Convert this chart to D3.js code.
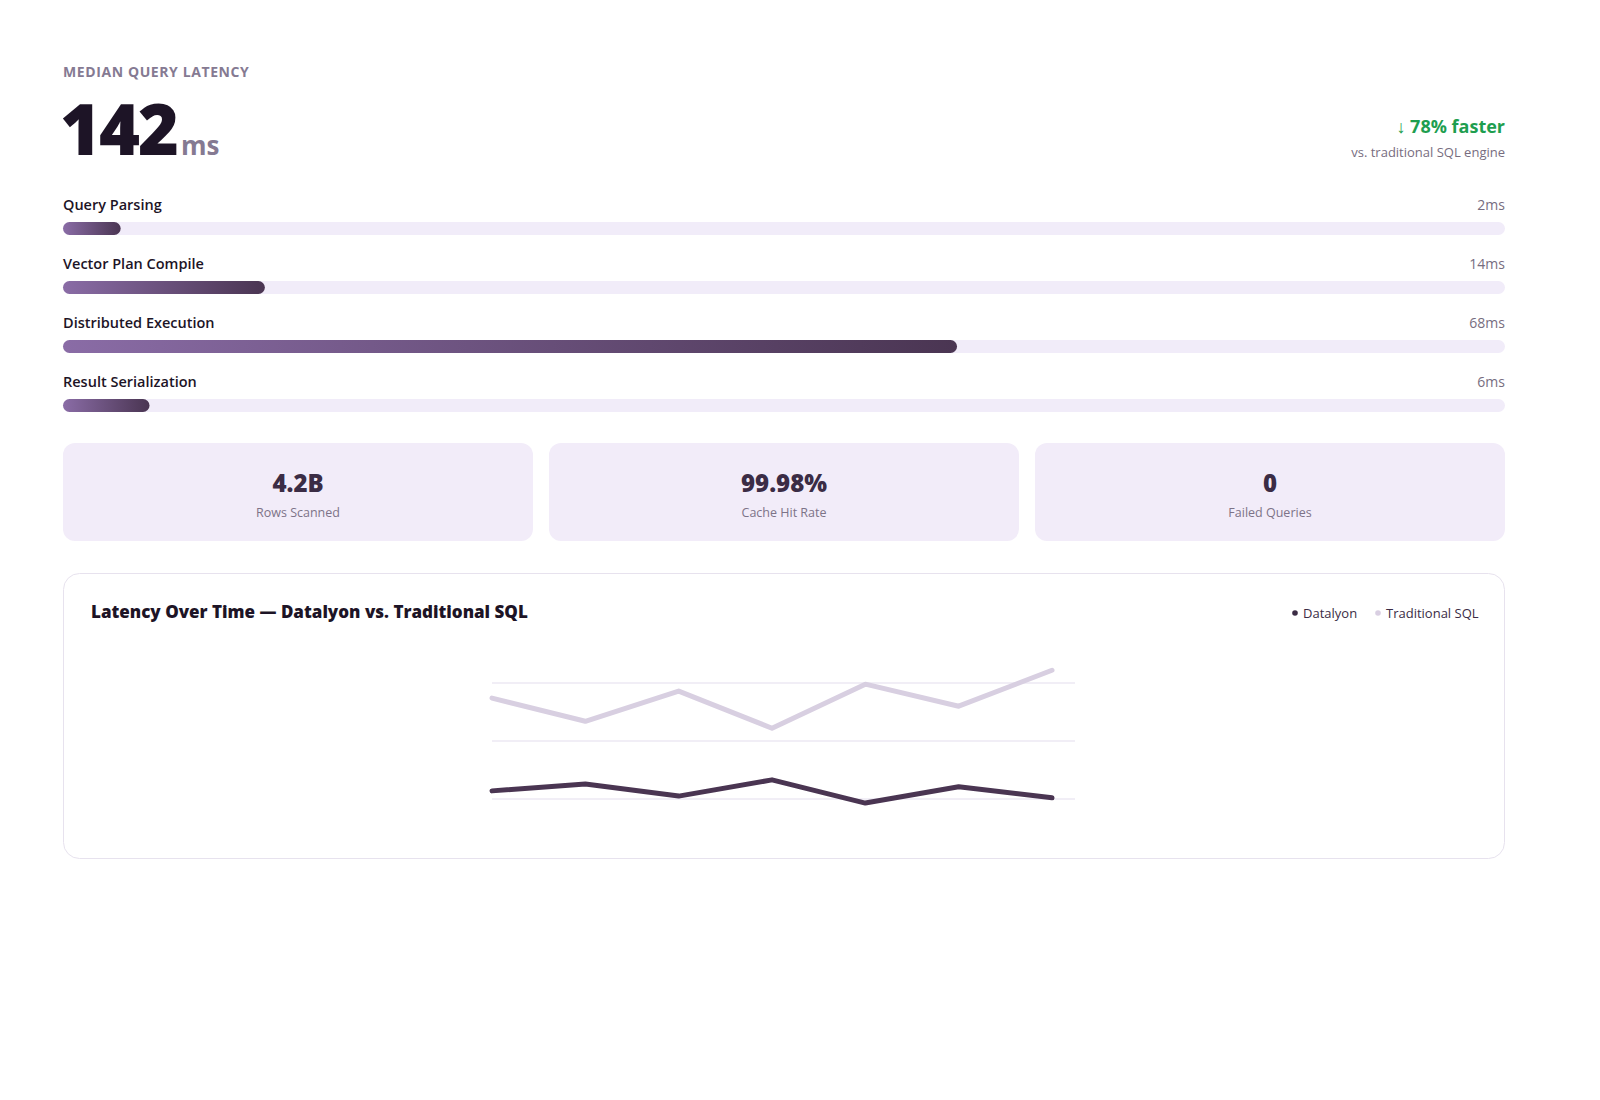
<!DOCTYPE html>
<html><head><meta charset="utf-8">
<script src="https://cdn.jsdelivr.net/npm/d3@7"></script>
<style>
html,body{margin:0;padding:0;background:#fff;overflow:hidden;font-family:"Open Sans","Noto Sans",sans-serif;}
svg{display:block;}
</style></head><body>
<svg id="c" width="1600" height="1100" viewBox="0 0 1600 1100"></svg>
<script>
const stages=["Query Parsing","Vector Plan Compile","Distributed Execution","Result Serialization"];
const stageLabels=["2ms","14ms","68ms","6ms"];
const stageFill=[0.04,0.14,0.62,0.06];
const statValues=["4.2B","99.98%","0"];
const statLabels=["Rows Scanned","Cache Hit Rate","Failed Queries"];
const timeIdx=[0,1,2,3,4,5,6];
const datalyon=[64,76,55,83,43,71,52];
const traditional=[224,184,236,172,248,210,272];
const gridVals=[50,150,250];

const svg=d3.select("#c");
const defs=svg.append("defs");
const g=defs.append("linearGradient").attr("id","bg");
g.append("stop").attr("offset","0%").attr("stop-color","#8a6ca6");
g.append("stop").attr("offset","100%").attr("stop-color","#4a3552");

svg.append("text").attr("x",63).attr("y",77).text("MEDIAN QUERY LATENCY")
 .attr("font-size",14).attr("font-weight",700).attr("fill","#857a92").attr("letter-spacing",0.6);
const big=svg.append("text").attr("x",60).attr("y",155);
big.append("tspan").text("142").attr("font-size",70).attr("font-weight",800).attr("fill","#1d1426").attr("letter-spacing",-2);
big.append("tspan").text("ms").attr("font-size",26).attr("font-weight",700).attr("fill","#857a92").attr("dx",4);
svg.append("text").attr("x",1505).attr("y",133).attr("text-anchor","end").text("↓ 78% faster")
 .attr("font-size",18).attr("font-weight",700).attr("fill","#1e9e4f");
svg.append("text").attr("x",1505).attr("y",157).attr("text-anchor","end").text("vs. traditional SQL engine")
 .attr("font-size",13).attr("fill","#776d80");

const bx=d3.scaleLinear().domain([0,1]).range([63,1505]);
stages.forEach((s,i)=>{
 const y0=210+i*59;
 svg.append("text").attr("x",63).attr("y",y0).text(s).attr("font-size",14.5).attr("font-weight",600).attr("fill","#1d1426");
 svg.append("text").attr("x",1505).attr("y",y0).attr("text-anchor","end").text(stageLabels[i]).attr("font-size",14).attr("fill","#776d80");
 svg.append("rect").attr("x",bx(0)).attr("y",y0+12).attr("width",bx(1)-bx(0)).attr("height",13).attr("rx",6.5).attr("fill","#f1ecf9");
 svg.append("rect").attr("x",bx(0)).attr("y",y0+12).attr("width",bx(stageFill[i])-bx(0)).attr("height",13).attr("rx",6.5).attr("fill","url(#bg)");
});

statValues.forEach((v,i)=>{
 const x=63+i*486;
 svg.append("rect").attr("x",x).attr("y",443).attr("width",470).attr("height",98).attr("rx",12).attr("fill","#f2ecf9");
 svg.append("text").attr("x",x+235).attr("y",492).attr("text-anchor","middle").text(v).attr("font-size",24).attr("font-weight",800).attr("fill","#3b2c45");
 svg.append("text").attr("x",x+235).attr("y",517).attr("text-anchor","middle").text(statLabels[i]).attr("font-size",12.5).attr("fill","#7d7388");
});

svg.append("rect").attr("x",63.5).attr("y",573.5).attr("width",1441).attr("height",285).attr("rx",16).attr("fill","#fff").attr("stroke","#e7e2ee");
svg.append("text").attr("x",91).attr("y",618).text("Latency Over Time — Datalyon vs. Traditional SQL").attr("font-size",17).attr("font-weight",800).attr("fill","#1d1426");
svg.append("circle").attr("cx",1295).attr("cy",613).attr("r",2.8).attr("fill","#3b2c45");
svg.append("text").attr("x",1303).attr("y",618).text("Datalyon").attr("font-size",13).attr("fill","#3b2c45");
svg.append("circle").attr("cx",1378).attr("cy",613).attr("r",2.8).attr("fill","#d9cfe2");
svg.append("text").attr("x",1386).attr("y",618).text("Traditional SQL").attr("font-size",13).attr("fill","#3b2c45");

const x=d3.scaleLinear().domain([0,6]).range([492,1052]);
const y=d3.scaleLinear().domain([50,250]).range([799,683]);
svg.selectAll(".gl").data(gridVals).enter().append("line").attr("x1",492).attr("x2",1075)
 .attr("y1",d=>y(d)).attr("y2",d=>y(d)).attr("stroke","#ece8f3").attr("stroke-width",1.5);
const line=d3.line().x((d,i)=>x(timeIdx[i])).y(d=>y(d));
svg.append("path").attr("d",line(traditional)).attr("fill","none").attr("stroke","#d8cfe1").attr("stroke-width",5).attr("stroke-linecap","round").attr("stroke-linejoin","round");
svg.append("path").attr("d",line(datalyon)).attr("fill","none").attr("stroke","#4a3552").attr("stroke-width",5).attr("stroke-linecap","round").attr("stroke-linejoin","round");
</script></body></html>
